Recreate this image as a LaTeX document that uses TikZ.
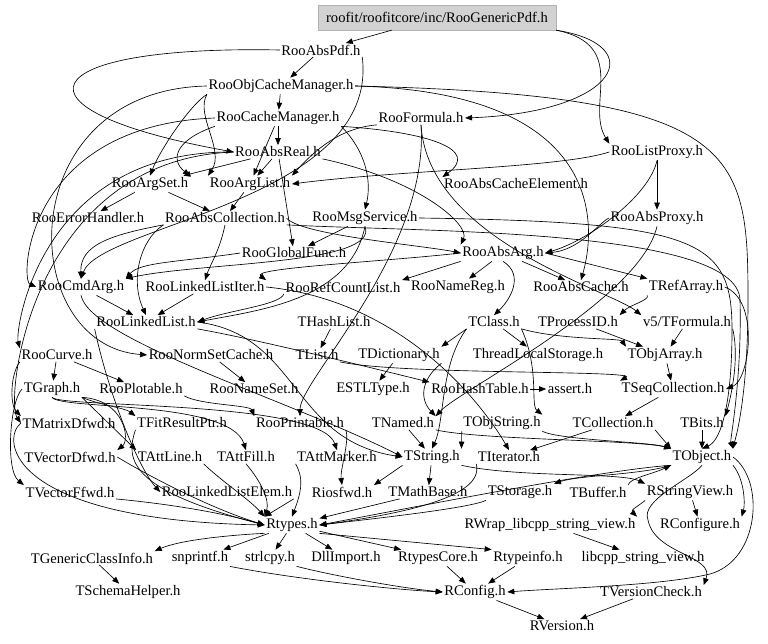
\documentclass[tikz,border=0pt]{standalone}
\usepackage{fontspec}
\setmainfont{Liberation Serif}
\usetikzlibrary{arrows.meta}
\begin{document}
\begin{tikzpicture}[x=1pt,y=-1pt,
  n/.style={inner sep=1.5pt, font=\fontsize{14.6}{16}\selectfont},
  e/.style={-{Triangle[length=7pt,width=5.5pt]}, line width=0.65pt, black}]
\useasboundingbox (0,0) rectangle (768,644);
% ---------------- nodes ----------------
\node[n, draw=gray!60, fill=gray!35, minimum width=238pt, minimum height=25pt] (gen) at (437,17.5) {roofit/roofitcore/inc/RooGenericPdf.h};
\node[n] (absPdf) at (321,50) {RooAbsPdf.h};
\node[n] (objCM) at (281,86) {RooObjCacheManager.h};
\node[n] (cacheM) at (278,118) {RooCacheManager.h};
\node[n] (formula) at (421,118) {RooFormula.h};
\node[n] (absReal) at (278,152) {RooAbsReal.h};
\node[n] (listProxy) at (657,152) {RooListProxy.h};
\node[n] (argSet) at (150,184) {RooArgSet.h};
\node[n] (argList) at (250,184) {RooArgList.h};
\node[n] (cacheElem) at (516,184) {RooAbsCacheElement.h};
\node[n] (errH) at (88,218) {RooErrorHandler.h};
\node[n] (absColl) at (225,218) {RooAbsCollection.h};
\node[n] (msgSvc) at (365,218) {RooMsgService.h};
\node[n] (absProxy) at (657,218) {RooAbsProxy.h};
\node[n] (globalF) at (294,253) {RooGlobalFunc.h};
\node[n] (absArg) at (503,253) {RooAbsArg.h};
\node[n] (cmdArg) at (81,287) {RooCmdArg.h};
\node[n] (llIter) at (205,287) {RooLinkedListIter.h};
\node[n] (refCL) at (343,287) {RooRefCountList.h};
\node[n] (nameReg) at (458,287) {RooNameReg.h};
\node[n] (absCache) at (581,287) {RooAbsCache.h};
\node[n] (refArr) at (686,287) {TRefArray.h};
\node[n] (linkedList) at (146,322) {RooLinkedList.h};
\node[n] (hashList) at (334,322) {THashList.h};
\node[n] (tclass) at (494,322) {TClass.h};
\node[n] (procID) at (578,322) {TProcessID.h};
\node[n] (tformula) at (687,322) {v5/TFormula.h};
\node[n] (curve) at (57,355) {RooCurve.h};
\node[n] (normSet) at (211,355) {RooNormSetCache.h};
\node[n] (tlist) at (317,355) {TList.h};
\node[n] (dict) at (399,355) {TDictionary.h};
\node[n] (tls) at (538,355) {ThreadLocalStorage.h};
\node[n] (objArr) at (665,355) {TObjArray.h};
\node[n] (graph) at (52,389) {TGraph.h};
\node[n] (plotable) at (141,389) {RooPlotable.h};
\node[n] (nameSet) at (254,389) {RooNameSet.h};
\node[n] (estl) at (373,389) {ESTLType.h};
\node[n] (hashTab) at (480,389) {RooHashTable.h};
\node[n] (assert) at (570,389) {assert.h};
\node[n] (seqColl) at (673,389) {TSeqCollection.h};
\node[n] (matD) at (69,423) {TMatrixDfwd.h};
\node[n] (fitRes) at (182,423) {TFitResultPtr.h};
\node[n] (printable) at (300,423) {RooPrintable.h};
\node[n] (named) at (403,423) {TNamed.h};
\node[n] (objStr) at (502,423) {TObjString.h};
\node[n] (coll) at (613,423) {TCollection.h};
\node[n] (bits) at (702,423) {TBits.h};
\node[n] (vecD) at (70,457) {TVectorDfwd.h};
\node[n] (attLine) at (170,457) {TAttLine.h};
\node[n] (attFill) at (246,457) {TAttFill.h};
\node[n] (attMarker) at (337,457) {TAttMarker.h};
\node[n] (tstring) at (432,457) {TString.h};
\node[n] (iter) at (509,457) {TIterator.h};
\node[n] (tobject) at (702,457) {TObject.h};
\node[n] (vecF) at (70,492) {TVectorFfwd.h};
\node[n] (llElem) at (227,492) {RooLinkedListElem.h};
\node[n] (riosfwd) at (342,492) {Riosfwd.h};
\node[n] (mathBase) at (428,492) {TMathBase.h};
\node[n] (storage) at (520,492) {TStorage.h};
\node[n] (buffer) at (598,492) {TBuffer.h};
\node[n] (strView) at (690,492) {RStringView.h};
\node[n] (rtypes) at (292,525) {Rtypes.h};
\node[n] (rwrap) at (550,525) {RWrap\_libcpp\_string\_view.h};
\node[n] (rconfigure) at (700,525) {RConfigure.h};
\node[n] (genCI) at (92,558) {TGenericClassInfo.h};
\node[n] (snprintf) at (200,558) {snprintf.h};
\node[n] (strlcpy) at (270,558) {strlcpy.h};
\node[n] (dllImport) at (346,558) {DllImport.h};
\node[n] (rtypesCore) at (438,558) {RtypesCore.h};
\node[n] (rtypeinfo) at (528,558) {Rtypeinfo.h};
\node[n] (libcpp) at (643,558) {libcpp\_string\_view.h};
\node[n] (schema) at (128,592) {TSchemaHelper.h};
\node[n] (rconfig) at (475,592) {RConfig.h};
\node[n] (versionCheck) at (651,592) {TVersionCheck.h};
\node[n] (rversion) at (562,626) {RVersion.h};
% ---------------- edges ----------------
\draw[e] (gen) -- (absPdf);
\draw[e] (gen.south east) .. controls (650,45) and (620,112) .. (formula.east);
\draw[e] (gen.south east) .. controls (630,45) and (585,105) .. (listProxy.north west);
\draw[e] (absPdf) -- (objCM);
\draw[e] (absPdf.west) .. controls (30,45) and (0,110) .. (absReal.west);
\draw[e] (absPdf.south east) .. controls (380,200) and (100,225) .. (cmdArg.north);
\draw[e] (objCM) -- (cacheM);
\draw[e] (objCM.west) .. controls (10,90) and (15,345) .. (normSet.west);
\draw[e] (objCM.east) .. controls (600,92) and (598,220) .. (absCache.north);
\draw[e] (objCM.east) .. controls (740,95) and (748,150) .. (748,300) .. controls (748,400) and (735,440) .. (tobject.north east);
\draw[e] (objCM.south west) .. controls (190,105) and (160,150) .. (argSet.north);
\draw[e] (objCM.south west) .. controls (195,115) and (225,150) .. (argList.north west);
\draw[e] (cacheM) -- (absReal);
\draw[e] (cacheM.south west) .. controls (175,140) and (170,160) .. (argSet.north east);
\draw[e] (cacheM) -- (argList);
\draw[e] (cacheM.south east) .. controls (430,132) and (480,150) .. (cacheElem.north west);
\draw[e] (cacheM.south east) .. controls (365,150) and (372,180) .. (msgSvc.north);
\draw[e] (cacheM.west) .. controls (25,125) and (20,280) .. (cmdArg.west);
\draw[e] (formula.south west) .. controls (340,128) and (315,150) .. (argList.north east);
\draw[e] (formula.south) .. controls (430,250) and (300,380) .. (printable.north);
\draw[e] (formula.south) .. controls (428,240) and (610,290) .. (tformula.north west);
\draw[e] (absReal) -- (argList);
\draw[e] (absReal) -- (argSet);
\draw[e] (absReal.south east) .. controls (420,180) and (470,225) .. (absArg.north west);
\draw[e] (absReal) -- (globalF);
\draw[e] (absReal.west) .. controls (40,150) and (15,330) .. (curve.north west);
\draw[e] (absReal.west) .. controls (30,160) and (5,400) .. (matD.west);
\draw[e] (listProxy) -- (absProxy);
\draw[e] (listProxy.west) .. controls (560,168) and (400,170) .. (argList.east);
\draw[e] (listProxy.south) .. controls (650,195) and (590,240) .. (absArg.east);
\draw[e] (absProxy.west) .. controls (600,222) and (580,250) .. (absArg.east);
\draw[e] (absProxy.south) .. controls (640,300) and (460,390) .. (named.north east);
\draw[e] (argSet) -- (errH);
\draw[e] (argSet) -- (absColl);
\draw[e] (argList) -- (absColl);
\draw[e] (absColl.east) .. controls (300,235) and (420,245) .. (absArg.west);
\draw[e] (absColl.south west) .. controls (110,235) and (80,245) .. (cmdArg.north);
\draw[e] (absColl.south west) .. controls (140,240) and (130,280) .. (linkedList.north);
\draw[e] (absColl.south) .. controls (220,250) and (210,265) .. (llIter.north);
\draw[e] (absColl.south east) .. controls (420,232) and (738,228) .. (740,300) .. controls (742,380) and (730,440) .. (tobject.north east);
\draw[e] (msgSvc) -- (globalF);
\draw[e] (msgSvc.south) .. controls (380,265) and (200,262) .. (cmdArg.north east);
\draw[e] (msgSvc.south) .. controls (350,300) and (260,310) .. (linkedList.east);
\draw[e] (msgSvc.east) .. controls (700,222) and (732,240) .. (732,330) .. controls (732,400) and (722,440) .. (tobject.north);
\draw[e] (globalF.west) .. controls (180,262) and (140,262) .. (cmdArg.north east);
\draw[e] (absArg.south west) -- (refCL.north east);
\draw[e] (absArg) -- (nameReg);
\draw[e] (absArg) -- (absCache);
\draw[e] (absArg.east) -- (refArr.north west);
\draw[e] (absArg.west) .. controls (380,262) and (250,268) .. (llIter.north east);
\draw[e] (absArg.south) .. controls (525,275) and (510,300) .. (tclass.north);
\draw[e] (refArr.south west) .. controls (650,300) and (630,305) .. (procID.north east);
\draw[e] (refArr.east) .. controls (760,300) and (750,380) .. (seqColl.east);
\draw[e] (cmdArg) -- (linkedList);
\draw[e] (llIter) -- (linkedList);
\draw[e] (refCL.south west) .. controls (280,305) and (230,310) .. (linkedList.east);
\draw[e] (llIter.east) .. controls (400,300) and (480,400) .. (iter.north);
\draw[e] (linkedList.south west) .. controls (110,400) and (140,470) .. (llElem.west);
\draw[e] (linkedList.south east) .. controls (260,340) and (380,370) .. (hashTab.north west);
\draw[e] (linkedList.east) .. controls (300,335) and (290,440) .. (tstring.west);
\draw[e] (cmdArg.south) .. controls (90,340) and (290,400) .. (tstring.west);
\draw[e] (hashList) -- (tlist);
\draw[e] (tclass.south west) -- (dict.north east);
\draw[e] (tclass) -- (tls);
\draw[e] (tclass.south east) .. controls (560,340) and (620,338) .. (objArr.north west);
\draw[e] (tclass.south east) .. controls (540,370) and (530,405) .. (objStr.north east);
\draw[e] (tclass.south west) .. controls (440,365) and (445,420) .. (tstring.north);
\draw[e] (procID) -- (objArr);
\draw[e] (tformula) -- (objArr);
\draw[e] (tformula.south east) .. controls (740,360) and (730,400) .. (bits.north east);
\draw[e] (curve) -- (graph);
\draw[e] (curve) -- (plotable);
\draw[e] (curve.south west) .. controls (10,375) and (10,405) .. (matD.north west);
\draw[e] (normSet) -- (nameSet);
\draw[e] (tlist.south east) .. controls (400,375) and (640,370) .. (seqColl.north west);
\draw[e] (dict) -- (estl);
\draw[e] (dict.south east) .. controls (420,380) and (420,400) .. (named.north east);
\draw[e] (objArr) -- (seqColl);
\draw[e] (graph.south east) -- (attLine.north west);
\draw[e] (graph.south) .. controls (60,410) and (230,400) .. (attFill.north);
\draw[e] (graph.south) .. controls (60,408) and (320,400) .. (attMarker.north);
\draw[e] (graph.south east) .. controls (125,400) and (130,440) .. (vecD.north east);
\draw[e] (graph.west) .. controls (10,400) and (5,470) .. (vecF.north west);
\draw[e] (graph.south east) .. controls (100,405) and (125,408) .. (fitRes.north west);
\draw[e] (plotable.south east) .. controls (200,405) and (250,405) .. (printable.north west);
\draw[e] (hashTab) -- (assert);
\draw[e] (seqColl) -- (coll);
\draw[e] (matD.west) .. controls (0,440) and (10,520) .. (rtypes.west);
\draw[e] (fitRes.south west) .. controls (125,460) and (130,490) .. (rtypes.west);
\draw[e] (printable.south east) .. controls (350,440) and (340,470) .. (riosfwd.north);
\draw[e] (named) -- (tstring);
\draw[e] (named.south east) .. controls (480,440) and (640,440) .. (tobject.north west);
\draw[e] (objStr.south west) -- (tstring.north east);
\draw[e] (objStr.south east) .. controls (560,440) and (650,442) .. (tobject.north west);
\draw[e] (coll.south east) -- (tobject.north west);
\draw[e] (coll) -- (iter);
\draw[e] (bits) -- (tobject);
\draw[e] (vecD.east) .. controls (130,465) and (200,505) .. (rtypes.west);
\draw[e] (vecF.south east) .. controls (180,505) and (230,515) .. (rtypes.west);
\draw[e] (attLine.south east) .. controls (220,480) and (250,500) .. (rtypes.north west);
\draw[e] (attFill.south) .. controls (260,480) and (270,500) .. (rtypes.north west);
\draw[e] (attMarker.south west) .. controls (305,480) and (300,495) .. (rtypes.north);
\draw[e] (tstring) -- (mathBase);
\draw[e] (tstring.south west) -- (riosfwd.north east);
\draw[e] (tstring.south east) .. controls (520,478) and (620,472) .. (strView.north west);
\draw[e] (iter.south west) .. controls (480,480) and (470,505) .. (rtypes.east);
\draw[e] (tobject.south west) .. controls (640,475) and (580,475) .. (storage.north east);
\draw[e] (tobject.south west) .. controls (600,470) and (400,510) .. (rtypes.east);
\draw[e] (tobject.south east) .. controls (745,480) and (745,505) .. (rconfigure.north east);
\draw[e] (tobject.south) .. controls (690,480) and (640,500) .. (648,520) .. controls (655,555) and (715,555) .. (versionCheck.north east);
\draw[e] (tobject.east) .. controls (765,480) and (760,560) .. (710,574) .. controls (660,586) and (560,588) .. (rconfig.east);
\draw[e] (buffer.north east) .. controls (630,478) and (650,475) .. (tobject.south west);
\draw[e] (storage.south west) .. controls (470,508) and (380,518) .. (rtypes.east);
\draw[e] (mathBase) -- (rtypes);
\draw[e] (llElem.south east) -- (rtypes.north west);
\draw[e] (strView.south west) .. controls (640,505) and (630,510) .. (rwrap.north east);
\draw[e] (strView) -- (rconfigure);
\draw[e] (rtypes.south west) .. controls (230,535) and (180,540) .. (genCI.north east);
\draw[e] (rtypes) -- (snprintf);
\draw[e] (rtypes) -- (strlcpy);
\draw[e] (rtypes) -- (dllImport);
\draw[e] (rtypes) -- (rtypesCore);
\draw[e] (rtypes.south east) -- (rtypeinfo.north west);
\draw[e] (rwrap) -- (libcpp);
\draw[e] (genCI) -- (schema);
\draw[e] (snprintf.south east) .. controls (300,580) and (400,590) .. (rconfig.west);
\draw[e] (strlcpy.south east) .. controls (330,575) and (400,588) .. (rconfig.west);
\draw[e] (rtypesCore) -- (rconfig);
\draw[e] (rtypeinfo) -- (rconfig);
\draw[e] (rconfig) -- (rversion);
\draw[e] (versionCheck) -- (rversion);
\end{tikzpicture}
\end{document}
